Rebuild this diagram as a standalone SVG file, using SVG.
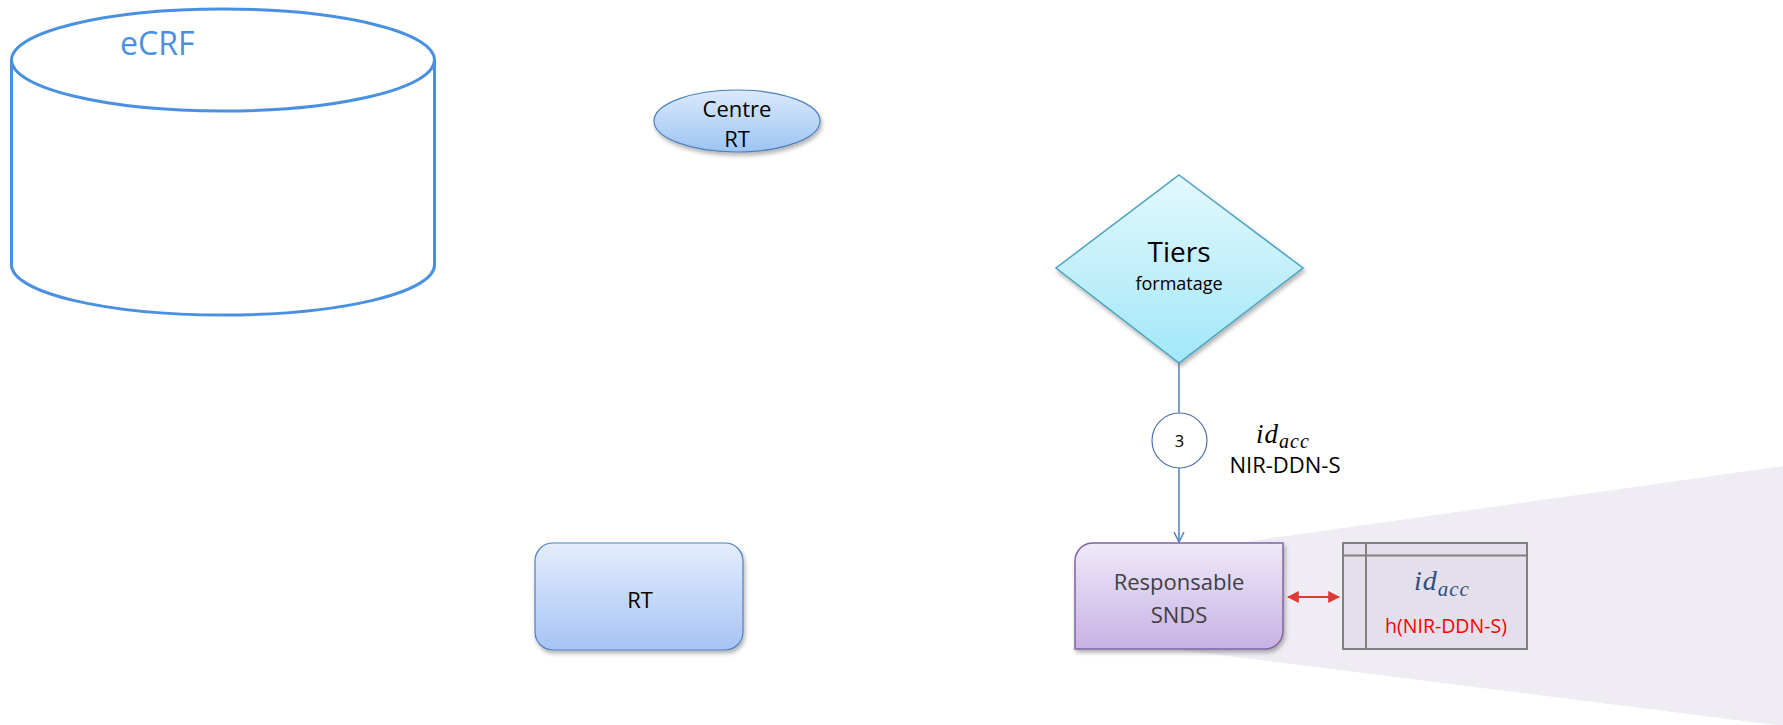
<svg xmlns="http://www.w3.org/2000/svg" width="1783" height="725" viewBox="0 0 1783 725">
  <style>
    .sans { font-family: "Open Sans", "Noto Sans", "DejaVu Sans", sans-serif; }
    .math { font-family: "Liberation Serif", "DejaVu Serif", serif; font-style: italic; letter-spacing: 1px; }
    .conn { stroke: #4f81bd; stroke-width: 1.5; fill: none; }
  </style>
  <defs>
    <linearGradient id="gCentre" x1="0" y1="0" x2="0" y2="1">
      <stop offset="0" stop-color="#dceafc"/>
      <stop offset="1" stop-color="#9cc4f2"/>
    </linearGradient>
    <linearGradient id="gTiers" x1="0" y1="0" x2="0" y2="1">
      <stop offset="0" stop-color="#e3f8fd"/>
      <stop offset="1" stop-color="#a2e7f8"/>
    </linearGradient>
    <linearGradient id="gRT" x1="0" y1="0" x2="0" y2="1">
      <stop offset="0" stop-color="#e4edfd"/>
      <stop offset="1" stop-color="#a6c3f4"/>
    </linearGradient>
    <linearGradient id="gSNDS" x1="0" y1="0" x2="0" y2="1">
      <stop offset="0" stop-color="#efe9f9"/>
      <stop offset="1" stop-color="#c6b2e4"/>
    </linearGradient>
    <filter id="shadow" x="-10%" y="-10%" width="130%" height="140%">
      <feDropShadow dx="1.5" dy="3" stdDeviation="2" flood-color="#000" flood-opacity="0.3"/>
    </filter>
    <marker id="arrowOpen" viewBox="0 0 12 12" refX="11" refY="6" markerWidth="12" markerHeight="12" markerUnits="userSpaceOnUse" orient="auto">
      <path d="M1,1 L11,6 L1,11" fill="none" stroke="#4f81bd" stroke-width="1.5"/>
    </marker>
    <marker id="redHead" viewBox="0 0 10 10" refX="9" refY="5" markerWidth="12" markerHeight="12" markerUnits="userSpaceOnUse" orient="auto-start-reverse">
      <path d="M0,0 L10,5 L0,10 Z" fill="#e0393a"/>
    </marker>
  </defs>

  <!-- highlighted zone behind the SNDS part -->
  <polygon points="1180,551 1783,466 1783,726 1180,650" fill="#efedf3"/>

  <!-- eCRF database -->
  <g id="ecrf">
    <path d="M11.5,60 L11.5,265 A211.5,50 0 0 0 434.5,265 L434.5,60" fill="#fff" stroke="#4a90e2" stroke-width="3"/>
    <ellipse cx="223" cy="60" rx="211.5" ry="51" fill="#fff" stroke="#4a90e2" stroke-width="3"/>
    <text x="120" y="55" class="sans" font-size="32" fill="#4a90e2">eCRF</text>
  </g>

  <!-- Centre RT -->
  <g id="centre-rt">
    <ellipse cx="737" cy="121" rx="83" ry="31" fill="url(#gCentre)" stroke="#4f81bd" stroke-width="1.2" filter="url(#shadow)"/>
    <text x="737" y="117" class="sans" font-size="22" fill="#000" text-anchor="middle">Centre</text>
    <text x="737" y="147" class="sans" font-size="22" fill="#000" text-anchor="middle">RT</text>
  </g>

  <!-- Tiers formatage -->
  <g id="tiers">
    <polygon points="1179,175 1303,268 1179,363 1056,268" fill="url(#gTiers)" stroke="#4aa3c0" stroke-width="1.5" filter="url(#shadow)"/>
    <text x="1179" y="262" class="sans" font-size="28" fill="#000" text-anchor="middle">Tiers</text>
    <text x="1179" y="290" class="sans" font-size="18" fill="#000" text-anchor="middle">formatage</text>
  </g>

  <!-- RT -->
  <g id="rt">
    <rect x="535" y="543" width="208" height="107" rx="18" fill="url(#gRT)" stroke="#4f81bd" stroke-width="1.2" filter="url(#shadow)"/>
    <text x="640" y="608" class="sans" font-size="22" fill="#000" text-anchor="middle">RT</text>
  </g>

  <!-- Responsable SNDS -->
  <g id="responsable-snds">
    <path d="M1075,561 A18,18 0 0 1 1093,543 L1283,543 L1283,631 A18,18 0 0 1 1265,649 L1075,649 Z" fill="url(#gSNDS)" stroke="#8064a2" stroke-width="1.5" filter="url(#shadow)"/>
    <text x="1179" y="590" class="sans" font-size="22" fill="#404040" text-anchor="middle">Responsable</text>
    <text x="1179" y="623" class="sans" font-size="22" fill="#404040" text-anchor="middle">SNDS</text>
  </g>

  <!-- SNDS table -->
  <g id="table-snds">
    <rect x="1343" y="543" width="184" height="106" fill="#e4dfeb" stroke="#808080" stroke-width="2"/>
    <line x1="1343" y1="555.5" x2="1527" y2="555.5" stroke="#808080" stroke-width="2"/>
    <line x1="1366" y1="543" x2="1366" y2="649" stroke="#808080" stroke-width="2"/>
    <text x="1414" y="590" class="math" font-size="28" fill="#2b4f80">id<tspan font-size="21" dy="6">acc</tspan></text>
    <text x="1446" y="633" class="sans" font-size="19.5" fill="#ff0000" text-anchor="middle">h(NIR-DDN-S)</text>
  </g>

  <!-- connectors -->
  <g id="connectors">
    <line class="conn" x1="1179" y1="363" x2="1179" y2="413"/>
    <line class="conn" x1="1179" y1="468" x2="1179" y2="542" marker-end="url(#arrowOpen)"/>
    <line x1="1288" y1="597" x2="1339" y2="597" stroke="#e0393a" stroke-width="2" marker-start="url(#redHead)" marker-end="url(#redHead)"/>
  </g>

  <!-- step 3 badge and label -->
  <g id="step-3">
    <circle cx="1179.5" cy="440.5" r="27.5" fill="#fff" stroke="#4f6fa8" stroke-width="1.2"/>
    <text x="1179.5" y="446.5" class="sans" font-size="16.5" fill="#000" text-anchor="middle">3</text>
    <text x="1256" y="443" class="math" font-size="27" fill="#000">id<tspan font-size="20" dy="5">acc</tspan></text>
    <text x="1285" y="473" class="sans" font-size="22" fill="#000" text-anchor="middle">NIR-DDN-S</text>
  </g>
</svg>
